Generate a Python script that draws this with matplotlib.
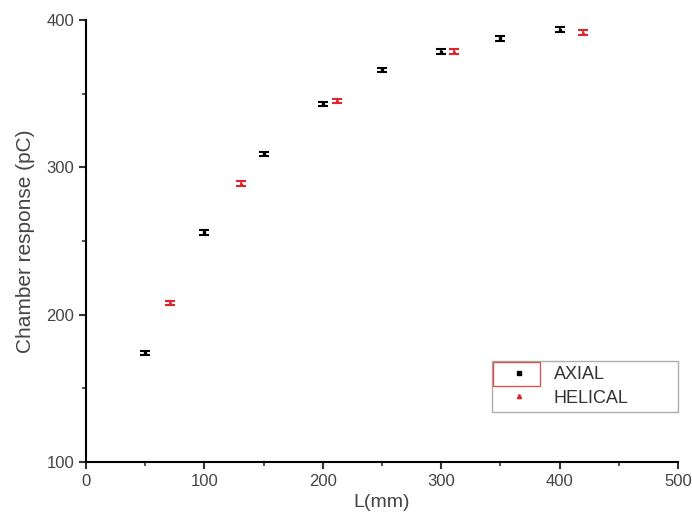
import matplotlib
matplotlib.use("Agg")
import matplotlib.pyplot as plt
from matplotlib.lines import Line2D
from matplotlib.patches import Rectangle
from matplotlib.ticker import MultipleLocator

plt.rcParams['font.family'] = ['Liberation Sans', 'DejaVu Sans']

# Axial scan data
axial_L = [50, 100, 150, 200, 250, 300, 350, 400]
axial_resp = [174, 256, 309, 343, 366, 378.5, 387.5, 393.5]
axial_err = [1.6, 1.6, 1.6, 1.6, 1.6, 1.6, 1.6, 1.6]

# Helical scan data
helical_L = [71, 131, 212, 311, 420]
helical_resp = [208, 289, 345, 378.5, 391.5]
helical_err = [1.6, 1.6, 1.6, 1.6, 1.6]

red = '#e0242b'

fig = plt.figure(figsize=(6.92, 5.29), dpi=100)
ax = fig.add_axes([0.1243, 0.1267, 0.8555, 0.8355])

ax.errorbar(axial_L, axial_resp, yerr=axial_err, fmt='s', color='black',
            markersize=2, capsize=3.5, elinewidth=1.2, capthick=1.5)
ax.errorbar(helical_L, helical_resp, yerr=helical_err, fmt='^', color=red,
            markersize=2, capsize=3.5, elinewidth=1.2, capthick=1.5)

ax.set_xlim(0, 500)
ax.set_ylim(100, 400)
ax.xaxis.set_major_locator(MultipleLocator(100))
ax.xaxis.set_minor_locator(MultipleLocator(50))
ax.yaxis.set_major_locator(MultipleLocator(100))
ax.yaxis.set_minor_locator(MultipleLocator(50))

ax.spines['top'].set_visible(False)
ax.spines['right'].set_visible(False)
ax.spines['left'].set_linewidth(1.5)
ax.spines['bottom'].set_linewidth(1.5)
ax.tick_params(which='major', direction='out', length=5, width=1.5,
               labelsize=12, colors='#333333', labelcolor='#444444')
ax.tick_params(which='minor', direction='out', length=3, width=1.2,
               colors='#333333')

ax.set_xlabel('L(mm)', fontsize=14, color='#444444', labelpad=4)
ax.set_ylabel('Chamber response (pC)', fontsize=15, color='#444444', labelpad=8)

handles = [Line2D([], [], marker='s', color='black', linestyle='none', markersize=2.5),
           Line2D([], [], marker='^', color=red, linestyle='none', markersize=3)]
leg = ax.legend(handles, ['AXIAL', 'HELICAL'], loc='lower left',
                bbox_to_anchor=(0.686, 0.113, 0.314, 0.12), mode='expand',
                fontsize=13, frameon=True, fancybox=False, handlelength=2.4,
                handletextpad=0.7, borderpad=0.3, labelspacing=0.35,
                borderaxespad=0)
leg.get_frame().set_edgecolor('#999999')
leg.get_frame().set_linewidth(1.0)
for t in leg.get_texts():
    t.set_color('#333333')

# selection box around the first legend entry
fig.patches.append(Rectangle((493 / 692, 1 - 386 / 529), 47 / 692, 24 / 529,
                             transform=fig.transFigure, fill=False,
                             edgecolor='#d9534f', linewidth=1.0))

fig.savefig('out.png', dpi=100)
